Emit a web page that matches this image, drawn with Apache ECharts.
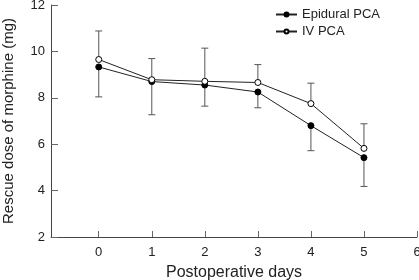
<!DOCTYPE html>
<html><head><meta charset="utf-8">
<script src="https://cdn.jsdelivr.net/npm/echarts@6/dist/echarts.min.js"></script>
<style>html,body{margin:0;padding:0;background:#fff}#c{width:419px;height:280px}</style>
</head><body><div id="c"></div>
<script>
const days = [0, 1, 2, 3, 4, 5];
const xTicks = [0, 1, 2, 3, 4, 5, 6];
const yTicks = [2, 4, 6, 8, 10, 12];
const epiduralMean = [9.33, 8.70, 8.55, 8.25, 6.80, 5.42];
const epiduralLow  = [8.04, 7.27, 7.64, 7.57, 5.72, 4.18];
const ivMean = [9.65, 8.78, 8.71, 8.66, 7.75, 5.82];
const ivHigh = [10.88, 9.69, 10.14, 9.43, 8.63, 6.88];

const font = 'Liberation Sans, Arial, Helvetica, sans-serif';
const chart = echarts.init(document.getElementById('c'));

function errItem(params, api) {
  const x = api.value(0), m = api.value(1), e = api.value(2);
  const p0 = api.coord([x, m]);
  const p1 = api.coord([x, e]);
  const st = {stroke: '#555', lineWidth: 1};
  return {type: 'group', children: [
    {type: 'line', shape: {x1: p0[0], y1: p0[1], x2: p1[0], y2: p1[1]}, style: st},
    {type: 'line', shape: {x1: p1[0]-3.5, y1: p1[1], x2: p1[0]+3.5, y2: p1[1]}, style: st}
  ]};
}

chart.setOption({
  animation: false,
  textStyle: {fontFamily: font},
  grid: {left: 51, right: 2, top: 5, bottom: 43, containLabel: false, outerBoundsMode: 'none'},
  legend: {
    orient: 'vertical', left: 270, top: 3, itemGap: 4, itemWidth: 21, itemHeight: 5,
    textStyle: {fontFamily: font, fontSize: 13, color: '#222'},
    data: ['Epidural PCA', 'IV PCA']
  },
  xAxis: {
    type: 'value', min: -0.9, max: 6,
    name: 'Postoperative days', nameLocation: 'middle', nameGap: 28,
    nameTextStyle: {fontFamily: font, fontSize: 16, color: '#222'},
    axisLine: {onZero: false, lineStyle: {color: '#444', width: 1}},
    axisTick: {inside: true, length: 6, lineStyle: {color: '#666'}, customValues: xTicks},
    axisLabel: {fontFamily: font, fontSize: 13, color: '#222', margin: 9, customValues: xTicks},
    splitLine: {show: false}
  },
  yAxis: {
    type: 'value', min: 2, max: 12, interval: 2,
    name: 'Rescue dose of morphine (mg)', nameLocation: 'middle', nameGap: 35,
    nameTextStyle: {fontFamily: font, fontSize: 15, color: '#222'},
    axisLine: {show: true, onZero: false, lineStyle: {color: '#444', width: 1}},
    axisTick: {show: true, inside: true, length: 7, lineStyle: {color: '#666'}},
    axisLabel: {fontFamily: font, fontSize: 13, color: '#222', margin: 6},
    splitLine: {show: false}
  },
  series: [
    {type: 'custom', renderItem: errItem, silent: true, z: 1,
      data: days.map((d, i) => [d, ivMean[i], ivHigh[i]])},
    {type: 'custom', renderItem: errItem, silent: true, z: 1,
      data: days.map((d, i) => [d, epiduralMean[i], epiduralLow[i]])},
    {name: 'Epidural PCA', type: 'line', z: 3,
      data: days.map((d, i) => [d, epiduralMean[i]]),
      symbol: 'circle', symbolSize: 6,
      lineStyle: {color: '#222', width: 1},
      itemStyle: {color: '#000', borderColor: '#000', borderWidth: 1}},
    {name: 'IV PCA', type: 'line', z: 4,
      data: days.map((d, i) => [d, ivMean[i]]),
      symbol: 'circle', symbolSize: 6,
      lineStyle: {color: '#222', width: 1},
      itemStyle: {color: '#fff', borderColor: '#000', borderWidth: 1}}
  ]
});
</script></body></html>
